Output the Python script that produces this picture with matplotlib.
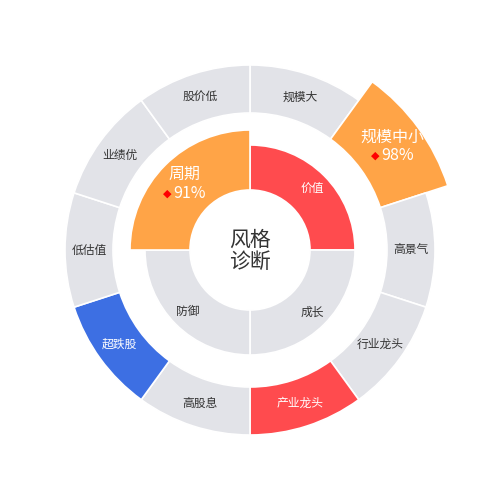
import matplotlib
matplotlib.use("Agg")
import matplotlib.pyplot as plt
import numpy as np

plt.rcParams['font.family'] = ['Noto Sans CJK SC', 'DejaVu Sans']

# ---- data ----
inner_labels = ['价值', '成长', '防御', '周期']
inner_values = [1, 1, 1, 1]
inner_state = ['red', 'gray', 'gray', 'orange']
inner_pct = {'周期': 91}

outer_labels = ['规模大', '规模中小', '高景气', '行业龙头', '产业龙头',
                '高股息', '超跌股', '低估值', '业绩优', '股价低']
outer_values = [1, 1, 1, 1, 1, 1, 1, 1, 1, 1]
outer_state = ['gray', 'orange', 'gray', 'gray', 'red',
               'gray', 'blue', 'gray', 'gray', 'gray']
outer_pct = {'规模中小': 98}

center_title = ['风格', '诊断']

# ---- style ----
COLORS = {'gray': '#E2E3E8', 'red': '#FF4B4E', 'orange': '#FFA447', 'blue': '#3D6FE3'}
TEXT_DARK = '#333333'

fig = plt.figure(figsize=(5, 5), dpi=100)
ax = fig.add_axes([0, 0, 1, 1])

R_IN_IN, R_IN_OUT, R_IN_BIG = 60, 105, 120
R_OUT_IN, R_OUT_OUT, R_OUT_BIG = 137, 185, 208


def draw_ring(labels, values, states, pcts, r_in, r_out, r_big, fs_small, fs_big):
    wedges, _ = ax.pie(values, startangle=90, counterclock=False, radius=r_out,
                       colors=[COLORS[s] for s in states],
                       wedgeprops=dict(width=r_out - r_in, edgecolor='white', linewidth=1.2))
    for w, lab, st in zip(wedges, labels, states):
        ang = np.deg2rad((w.theta1 + w.theta2) / 2)
        if lab in pcts:
            w.set_radius(r_big)
            w.set_width(r_big - r_in)
            rm = (r_in + r_big) / 2 + 3
            cx, cy = rm * np.cos(ang), rm * np.sin(ang)
            ax.text(cx, cy + 10, lab, ha='center', va='center', color='white', fontsize=fs_big)
            ax.text(cx - 17, cy - 9, '◆', ha='center', va='center', color='#FF0000', fontsize=8,
                    family=['DejaVu Sans'])
            ax.text(cx - 11, cy - 9, f'{pcts[lab]}%', ha='left', va='center', color='white',
                    fontsize=fs_big)
        else:
            rm = (r_in + r_out) / 2 + (5 if r_in < 100 else 0)
            cx, cy = rm * np.cos(ang), rm * np.sin(ang)
            col = TEXT_DARK if st == 'gray' else 'white'
            ax.text(cx, cy, lab, ha='center', va='center', color=col, fontsize=fs_small)


draw_ring(outer_labels, outer_values, outer_state, outer_pct,
          R_OUT_IN, R_OUT_OUT, R_OUT_BIG, 8.5, 11.5)
draw_ring(inner_labels, inner_values, inner_state, inner_pct,
          R_IN_IN, R_IN_OUT, R_IN_BIG, 8.5, 11.5)

ax.text(0, 10, center_title[0], ha='center', va='center', color=TEXT_DARK, fontsize=15)
ax.text(0, -12, center_title[1], ha='center', va='center', color=TEXT_DARK, fontsize=15)

ax.set_xlim(-250, 250)
ax.set_ylim(-250, 250)
ax.set_aspect('equal')
ax.axis('off')
fig.savefig('out.png', dpi=100, facecolor='white')
